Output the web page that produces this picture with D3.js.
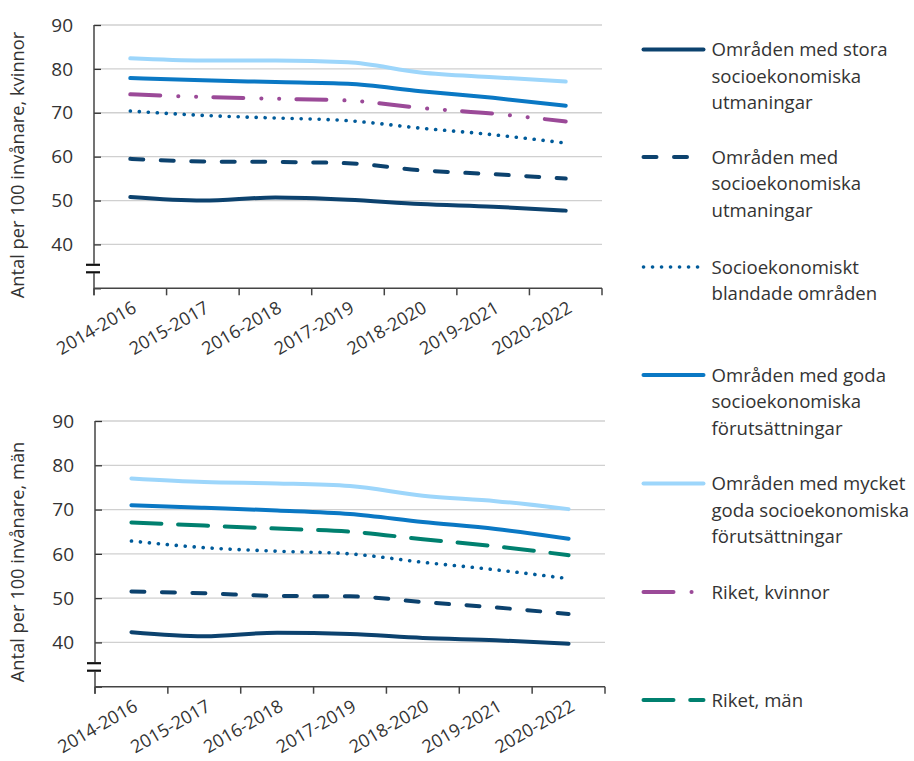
<!DOCTYPE html>
<html>
<head>
<meta charset="utf-8">
<script src="https://cdn.jsdelivr.net/npm/d3@7"></script>
<style>
  html, body { margin: 0; padding: 0; background: #fff; }
  svg { display: block; font-family: "Open Sans", "Noto Sans", sans-serif; }
</style>
</head>
<body>
<svg id="chart" width="914" height="761"></svg>
<script>
const periods = ["2014-2016","2015-2017","2016-2018","2017-2019","2018-2020","2019-2021","2020-2022"];
const yTicks = [30,40,50,60,70,80,90];

// Women (top panel)
const womenStora   = [50.8, 50.0, 50.7, 50.2, 49.2, 48.6, 47.7];
const womenUtman   = [59.5, 58.9, 58.8, 58.5, 56.9, 56.0, 55.0];
const womenBland   = [70.4, 69.4, 68.8, 68.2, 66.5, 65.0, 63.1];
const womenGoda    = [77.9, 77.4, 77.0, 76.6, 74.9, 73.4, 71.6];
const womenMycket  = [82.4, 81.9, 81.9, 81.5, 79.2, 78.1, 77.1];
const rikeKvinnor  = [74.2, 73.6, 73.2, 72.8, 71.1, 69.8, 68.0];

// Men (bottom panel)
const menStora     = [42.3, 41.4, 42.2, 41.9, 41.0, 40.5, 39.7];
const menUtman     = [51.5, 51.1, 50.5, 50.4, 49.1, 47.9, 46.4];
const menBland     = [62.9, 61.4, 60.6, 60.0, 58.1, 56.4, 54.4];
const menGoda      = [71.0, 70.4, 69.8, 69.0, 67.2, 65.6, 63.4];
const menMycket    = [77.0, 76.2, 75.9, 75.3, 73.1, 71.9, 70.1];
const rikeMan      = [67.1, 66.4, 65.7, 65.0, 63.3, 61.7, 59.7];

const legendLabels = [
  ["Områden med stora","socioekonomiska","utmaningar"],
  ["Områden med","socioekonomiska","utmaningar"],
  ["Socioekonomiskt","blandade områden"],
  ["Områden med goda","socioekonomiska","förutsättningar"],
  ["Områden med mycket","goda socioekonomiska","förutsättningar"],
  ["Riket, kvinnor"],
  ["Riket, män"]
];

const styles = {
  stora:  {color:"#0c426e", dash:null, width:4},
  utman:  {color:"#0c426e", dash:"13,17.5", width:4},
  bland:  {color:"#005b9a", dash:"0.1,8.9", width:3.6},
  goda:   {color:"#0a78c4", dash:null, width:4},
  mycket: {color:"#9dd6fb", dash:null, width:4},
  rikeK:  {color:"#9b4a98", dash:"30,18,0.1,17.7,0.1,17.2", width:4},
  rikeM:  {color:"#00806f", dash:"30,16.7", width:4}
};

const svg = d3.select("#chart");
const textColor = "#333";
const tickFont = 19, xFont = 18, titleFont = 18.3, legendFont = 18.6;

function panel(cfg) {
  const x = d3.scaleBand().domain(periods).range([cfg.x0, cfg.x1]);
  const y = d3.scaleLinear().domain([30, 90]).range([cfg.yb, cfg.yt]);
  const g = svg.append("g");

  // gridlines
  g.selectAll("line.grid").data(yTicks.filter(t => t > 30)).enter().append("line")
    .attr("x1", cfg.x0).attr("x2", cfg.x1)
    .attr("y1", d => y(d)).attr("y2", d => y(d))
    .attr("stroke", "#d0d0d0").attr("stroke-width", 1.3);

  // y axis (with inward ticks)
  const yAxis = d3.axisRight(y).tickValues(yTicks).tickSize(7).tickFormat("");
  const ya = g.append("g").attr("transform", `translate(${cfg.x0},0)`).call(yAxis);
  ya.select(".domain").remove();
  ya.selectAll(".tick line").attr("stroke", "#333").attr("stroke-width", 1.3);
  // axis line with break
  const b1 = cfg.yb - 23.5, b2 = cfg.yb - 16;
  g.append("line").attr("x1", cfg.x0).attr("x2", cfg.x0).attr("y1", y(90)).attr("y2", b1 - 1)
    .attr("stroke", "#444").attr("stroke-width", 1.5);
  g.append("line").attr("x1", cfg.x0).attr("x2", cfg.x0).attr("y1", b2 + 1).attr("y2", cfg.yb + 7)
    .attr("stroke", "#444").attr("stroke-width", 1.5);
  [b1, b2].forEach(by => g.append("line").attr("x1", cfg.x0 - 8).attr("x2", cfg.x0 + 6)
    .attr("y1", by).attr("y2", by).attr("stroke", "#111").attr("stroke-width", 2.2));

  // y labels
  g.selectAll("text.ylab").data(yTicks.filter(t => t > 30)).enter().append("text")
    .attr("x", cfg.x0 - 21).attr("y", d => y(d)).attr("dy", "0.35em")
    .attr("text-anchor", "end").attr("font-size", tickFont).attr("fill", textColor)
    .text(d => d);

  // x axis
  g.append("line").attr("x1", cfg.x0).attr("x2", cfg.x1).attr("y1", cfg.yb).attr("y2", cfg.yb)
    .attr("stroke", "#444").attr("stroke-width", 1.5);
  const edges = periods.map(p => x(p)).concat([cfg.x1]);
  g.selectAll("line.xt").data(edges).enter().append("line")
    .attr("x1", d => d).attr("x2", d => d).attr("y1", cfg.yb).attr("y2", cfg.yb + 7)
    .attr("stroke", "#444").attr("stroke-width", 1.5);
  g.selectAll("text.xlab").data(periods).enter().append("text")
    .attr("transform", d => `translate(${x(d) + x.bandwidth()/2 + 1},${cfg.yb + 12}) rotate(-30)`)
    .attr("text-anchor", "end").attr("dy", "0.71em")
    .attr("font-size", xFont).attr("fill", textColor).text(d => d);

  // y title
  g.append("text")
    .attr("transform", `translate(${cfg.titleX},${cfg.titleY}) rotate(-90)`)
    .attr("text-anchor", "middle").attr("dy", "0.35em")
    .attr("font-size", titleFont).attr("fill", textColor).text(cfg.title);

  const line = d3.line().x((d, i) => x(periods[i]) + x.bandwidth()/2).y(d => y(d))
    .curve(d3.curveMonotoneX);
  cfg.series.forEach(s => {
    const st = styles[s.key];
    g.append("path").datum(s.values).attr("d", line)
      .attr("fill", "none").attr("stroke", st.color).attr("stroke-width", st.width)
      .attr("stroke-linecap", "round").attr("stroke-linejoin", "round")
      .attr("stroke-dasharray", st.dash);
  });
}

panel({
  x0: 94, x1: 602, yb: 288.3, yt: 25, titleX: 18, titleY: 165,
  title: "Antal per 100 invånare, kvinnor",
  series: [
    {key:"mycket", values: womenMycket},
    {key:"goda", values: womenGoda},
    {key:"rikeK", values: rikeKvinnor},
    {key:"bland", values: womenBland},
    {key:"utman", values: womenUtman},
    {key:"stora", values: womenStora}
  ]
});

panel({
  x0: 95, x1: 605, yb: 686.7, yt: 421, titleX: 18, titleY: 562,
  title: "Antal per 100 invånare, män",
  series: [
    {key:"mycket", values: menMycket},
    {key:"goda", values: menGoda},
    {key:"rikeM", values: rikeMan},
    {key:"bland", values: menBland},
    {key:"utman", values: menUtman},
    {key:"stora", values: menStora}
  ]
});

// Legend
const legendKeys = ["stora","utman","bland","goda","mycket","rikeK","rikeM"];
const legendY = [49.5, 157, 267, 375, 483.5, 592, 700];
const lg = svg.append("g");
legendKeys.forEach((k, i) => {
  const st = styles[k];
  const yy = legendY[i];
  lg.append("line").attr("x1", 643.5).attr("x2", 703.5).attr("y1", yy).attr("y2", yy)
    .attr("stroke", st.color).attr("stroke-width", st.width)
    .attr("stroke-linecap", "round").attr("stroke-dasharray", st.dash);
  const t = lg.append("text").attr("x", 711.5).attr("y", yy).attr("font-size", legendFont).attr("fill", textColor);
  legendLabels[i].forEach((s, j) => {
    t.append("tspan").attr("x", 711.5).attr("y", yy + j * 26.5).attr("dy", "0.35em").text(s);
  });
});
</script>
</body>
</html>
